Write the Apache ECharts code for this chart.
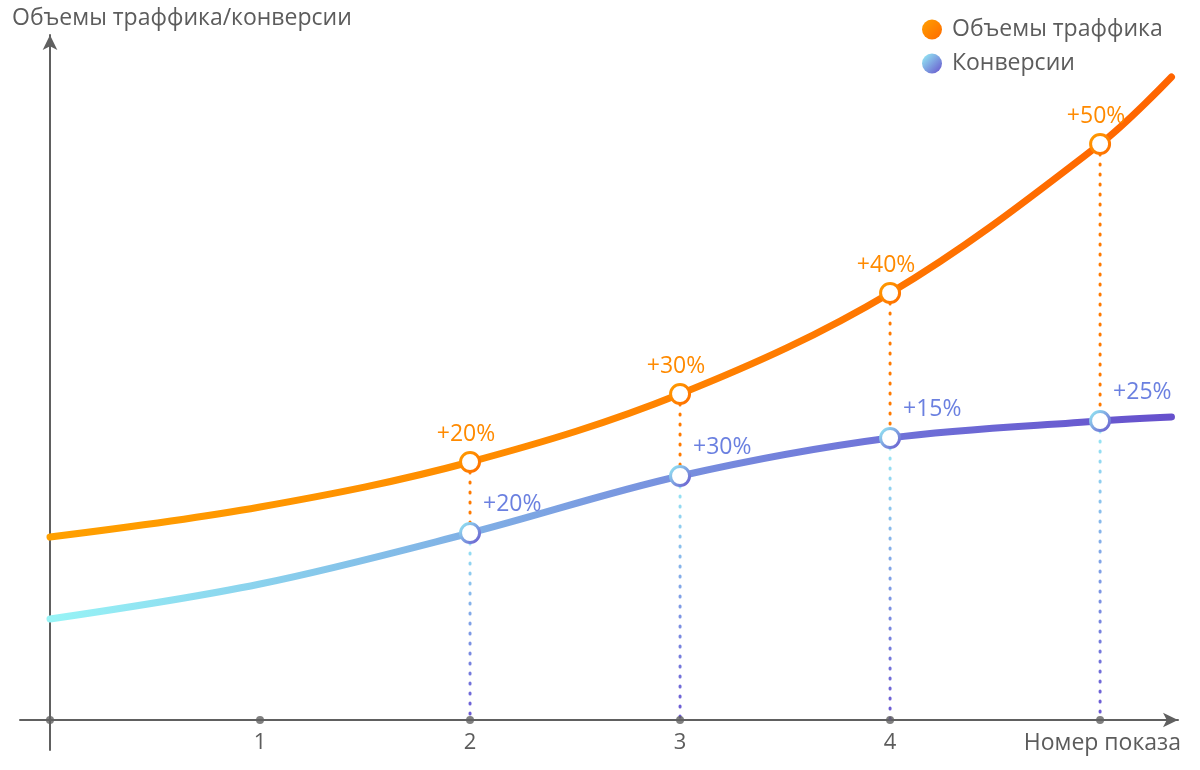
<!DOCTYPE html>
<html>
<head>
<meta charset="utf-8">
<script src="https://cdn.jsdelivr.net/npm/echarts@6/dist/echarts.min.js"></script>
<style>
  html, body { margin: 0; padding: 0; background: #fff; }
  #chart { width: 1200px; height: 770px; }
</style>
</head>
<body>
<div id="chart"></div>
<script>
  // show number (x) and values
  const xValues = [0, 1, 2, 3, 4, 5, 5.34];
  const trafficValues = [183, 213, 258, 326, 427, 576, 643];
  const conversionValues = [101, 136, 187, 244, 282, 299, 303];
  const trafficGrowth = [null, null, "+20%", "+30%", "+40%", "+50%", null];
  const conversionGrowth = [null, null, "+20%", "+30%", "+15%", "+25%", null];
  const tickValues = [0, 1, 2, 3, 4, 5];
  const tickLabels = ["", "1", "2", "3", "4", ""];

  const TEXT = "#5c5c5c";
  const AXIS = "#606060";
  const FONT = "'Open Sans', sans-serif";
  const FS = 22;

  const lin = (x0, y0, x1, y1, stops, global) =>
    new echarts.graphic.LinearGradient(x0, y0, x1, y1,
      stops.map((c, i) => ({ offset: i / (stops.length - 1), color: c })), global);

  const orangeLine = lin(50, 0, 1172, 0, ["#ffa000", "#ff8600", "#ff6400"], true);
  const blueLine = lin(50, 0, 1172, 0, ["#97f4f6", "#86c6ea", "#7a99e0", "#6f72d8", "#6650cc"], true);
  const orangeRing = lin(0, 0, 1, 1, ["#ffa000", "#ff6a00"]);
  const blueRing = lin(0, 0, 1, 1, ["#96f3f6", "#6650cc"]);

  function mainSeries(name, values, growth, lineColor, ringColor, label) {
    return {
      name,
      type: "line",
      smooth: 0.35,
      z: 3,
      lineStyle: { width: 7, color: lineColor, cap: "round" },
      itemStyle: { color: "#fff", borderColor: ringColor, borderWidth: 3 },
      emphasis: { disabled: true },
      data: xValues.map((x, i) => {
        const item = { value: [x, values[i]] };
        if (growth[i]) {
          item.symbol = "circle";
          item.symbolSize = 19;
          item.label = Object.assign({ show: true, formatter: growth[i] }, label);
        } else {
          item.symbol = "none";
        }
        return item;
      }),
    };
  }

  // dotted drop lines under each marked point
  const dropSeries = [];
  xValues.forEach((x, i) => {
    if (!trafficGrowth[i]) return;
    dropSeries.push({
      type: "line", silent: true, symbol: "none", z: 1,
      lineStyle: { width: 3, type: [1, 9], cap: "round", color: "#ff7a00" },
      data: [[x, trafficValues[i]], [x, conversionValues[i]]],
    });
    dropSeries.push({
      type: "line", silent: true, symbol: "none", z: 1,
      lineStyle: { width: 3, type: [1, 9], cap: "round",
        color: lin(0, 0, 0, 1, ["#9aeef6", "#7f9fe6", "#6a55d2"]) },
      data: [[x, conversionValues[i]], [x, 0]],
    });
  });

  const chart = echarts.init(document.getElementById("chart"));
  chart.setOption({
    animation: false,
    title: {
      text: "Объемы траффика/конверсии",
      left: 7, top: 2,
      textStyle: { fontFamily: FONT, fontSize: FS + 1, fontWeight: "normal", color: TEXT },
    },
    legend: {
      orient: "vertical",
      left: 917, top: 13,
      icon: "circle",
      itemWidth: 20, itemHeight: 20, itemGap: 11,
      textStyle: { fontFamily: FONT, fontSize: FS + 1, color: TEXT, padding: [0, 0, 0, 5] },
      data: [
        { name: "Объемы траффика", itemStyle: { color: orangeRing, borderWidth: 0 } },
        { name: "Конверсии", itemStyle: { color: blueRing, borderWidth: 0 } },
      ],
    },
    grid: { left: 20, right: 22, top: 35, bottom: 20, outerBoundsMode: "none" },
    xAxis: {
      type: "value",
      min: -1 / 7, max: 5.371,
      name: "Номер показа",
      nameLocation: "end",
      nameGap: 3,
      nameTextStyle: { fontFamily: FONT, fontSize: FS + 1, color: TEXT,
        align: "right", verticalAlign: "top", padding: [12, 0, 0, 0] },
      axisLine: { onZero: true, symbol: ["none", "arrow"], symbolSize: [11, 15],
        lineStyle: { color: AXIS, width: 2 } },
      axisTick: { show: false },
      splitLine: { show: false },
      axisLabel: {
        customValues: tickValues,
        formatter: (v) => tickLabels[tickValues.indexOf(v)] || "",
        margin: -18,
        fontFamily: FONT, fontSize: FS, color: TEXT,
      },
    },
    yAxis: {
      type: "value",
      min: -30, max: 685,
      axisLine: { show: true, onZero: true, symbol: ["none", "arrow"], symbolSize: [11, 15],
        lineStyle: { color: AXIS, width: 2 } },
      axisTick: { show: false },
      axisLabel: { show: false },
      splitLine: { show: false },
    },
    series: [
      ...dropSeries,
      mainSeries("Объемы траффика", trafficValues, trafficGrowth, orangeLine, orangeRing,
        { position: "top", distance: 5, offset: [-4, 0], color: "#ff8a00", fontFamily: FONT, fontSize: FS + 1 }),
      mainSeries("Конверсии", conversionValues, conversionGrowth, blueLine, blueRing,
        { position: "right", distance: 2, offset: [0, -29], color: "#6b80e0", fontFamily: FONT, fontSize: FS + 1 }),
      {
        type: "scatter", silent: true, z: 4,
        symbolSize: 8,
        itemStyle: { color: AXIS },
        data: tickValues.map((x) => [x, 0]),
      },
    ],
  });
</script>
</body>
</html>
